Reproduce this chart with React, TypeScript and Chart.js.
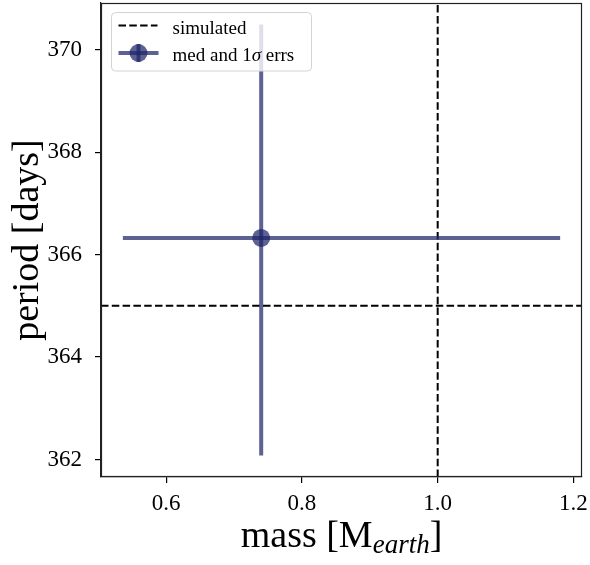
import React, { useEffect, useRef } from "react";
import { Chart, registerables } from "chart.js";

Chart.register(...registerables);

// ---- data ----
const massMedian = 0.74;
const massErrLow = 0.5362;
const massErrHigh = 1.1804;
const periodMedian = 366.325;
const periodErrLow = 362.08;
const periodErrHigh = 370.49;
const simulatedMass = [1.0];
const simulatedPeriod = [365.0];
const xRange = [0.504, 1.2126];
const yRange = [361.66, 370.91];
const xTicks = [0.6, 0.8, 1.0, 1.2];
const xTickLabels = ["0.6", "0.8", "1.0", "1.2"];
const yTicks = [362, 364, 366, 368, 370];
const yTickLabels = ["362", "364", "366", "368", "370"];
const legendLabels = ["simulated", "med and 1", "σ", " errs"];

const FONT = "'Liberation Serif', 'DejaVu Serif', serif";
const ERR = "rgba(30,38,105,0.72)";

function labelFor(ticks: number[], labels: string[], v: number) {
  const i = ticks.findIndex((t) => Math.abs(t - v) < 1e-9);
  return i >= 0 ? labels[i] : "";
}

function zeroPad(s: any) {
  s.paddingTop = 0;
  s.paddingBottom = 0;
  s.paddingLeft = 0;
  s.paddingRight = 0;
}

const overlayPlugin = {
  id: "overlay",
  afterDraw(chart: any) {
    const { ctx, chartArea } = chart;
    const { left, right, top, bottom } = chartArea;
    ctx.save();
    // frame
    ctx.strokeStyle = "#222";
    ctx.lineWidth = 1.2;
    ctx.strokeRect(left + 0.5, top + 0.5, right - left - 1, bottom - top - 1);

    // legend
    const bx = left + 10.5;
    const by = top + 9.5;
    const bw = 200;
    const bh = 58.5;
    const r = 4;
    ctx.beginPath();
    ctx.moveTo(bx + r, by);
    ctx.lineTo(bx + bw - r, by);
    ctx.quadraticCurveTo(bx + bw, by, bx + bw, by + r);
    ctx.lineTo(bx + bw, by + bh - r);
    ctx.quadraticCurveTo(bx + bw, by + bh, bx + bw - r, by + bh);
    ctx.lineTo(bx + r, by + bh);
    ctx.quadraticCurveTo(bx, by + bh, bx, by + bh - r);
    ctx.lineTo(bx, by + r);
    ctx.quadraticCurveTo(bx, by, bx + r, by);
    ctx.closePath();
    ctx.fillStyle = "rgba(255,255,255,0.8)";
    ctx.fill();
    ctx.strokeStyle = "#d3d3d3";
    ctx.lineWidth = 1;
    ctx.stroke();

    // dashed sample
    ctx.strokeStyle = "#000";
    ctx.lineWidth = 2;
    ctx.setLineDash([7.5, 3.3]);
    ctx.beginPath();
    ctx.moveTo(bx + 7, by + 13);
    ctx.lineTo(bx + 46, by + 13);
    ctx.stroke();
    ctx.setLineDash([]);

    // errorbar sample
    ctx.strokeStyle = ERR;
    ctx.lineWidth = 4;
    ctx.beginPath();
    ctx.moveTo(bx + 7, by + 40.5);
    ctx.lineTo(bx + 47, by + 40.5);
    ctx.stroke();
    ctx.beginPath();
    ctx.moveTo(bx + 27, by + 31.5);
    ctx.lineTo(bx + 27, by + 49.5);
    ctx.stroke();
    ctx.fillStyle = ERR;
    ctx.beginPath();
    ctx.arc(bx + 27, by + 40.5, 9, 0, Math.PI * 2);
    ctx.fill();

    // legend texts
    ctx.fillStyle = "#000";
    ctx.textBaseline = "alphabetic";
    ctx.textAlign = "left";
    ctx.font = `19px ${FONT}`;
    ctx.fillText(legendLabels[0], bx + 61, by + 21);
    let tx = bx + 61;
    ctx.fillText(legendLabels[1], tx, by + 48);
    tx += ctx.measureText(legendLabels[1]).width;
    ctx.font = `italic 19px ${FONT}`;
    ctx.fillText(legendLabels[2], tx, by + 48);
    tx += ctx.measureText(legendLabels[2]).width;
    ctx.font = `19px ${FONT}`;
    ctx.fillText(legendLabels[3], tx, by + 48);

    // x title: mass [M_earth]
    const fs = 38;
    const p1 = "mass [M";
    const p2 = "earth";
    const p3 = "]";
    ctx.font = `${fs}px ${FONT}`;
    const w1 = ctx.measureText(p1).width;
    const w3 = ctx.measureText(p3).width;
    ctx.font = `italic ${Math.round(fs * 0.7)}px ${FONT}`;
    const w2 = ctx.measureText(p2).width;
    const total = w1 + w2 + w3;
    let x0 = (left + right) / 2 - total / 2;
    const base = 547;
    ctx.font = `${fs}px ${FONT}`;
    ctx.fillText(p1, x0, base);
    x0 += w1;
    ctx.font = `italic ${Math.round(fs * 0.7)}px ${FONT}`;
    ctx.fillText(p2, x0, base + 6);
    x0 += w2;
    ctx.font = `${fs}px ${FONT}`;
    ctx.fillText(p3, x0, base);

    // y title
    ctx.save();
    ctx.translate(38, (top + bottom) / 2);
    ctx.rotate(-Math.PI / 2);
    ctx.textAlign = "center";
    ctx.font = `${fs}px ${FONT}`;
    ctx.fillText("period [days]", 0, 0);
    ctx.restore();

    ctx.restore();
  },
};

export default function App() {
  const ref = useRef<HTMLCanvasElement | null>(null);

  useEffect(() => {
    document.body.style.margin = "0";
    const canvas = ref.current;
    if (!canvas) return;
    const chart = new Chart(canvas, {
      type: "scatter",
      data: {
        datasets: [
          {
            type: "line",
            label: "simulated",
            data: [
              { x: simulatedMass[0], y: yRange[0] },
              { x: simulatedMass[0], y: yRange[1] },
            ],
            borderColor: "#000",
            borderWidth: 2,
            borderDash: [7.5, 3.3],
            pointRadius: 0,
            fill: false,
            order: 3,
          },
          {
            type: "line",
            label: "simulated",
            data: [
              { x: xRange[0], y: simulatedPeriod[0] },
              { x: xRange[1], y: simulatedPeriod[0] },
            ],
            borderColor: "#000",
            borderWidth: 2,
            borderDash: [7.5, 3.3],
            pointRadius: 0,
            fill: false,
            order: 3,
          },
          {
            type: "line",
            label: "mass err",
            data: [
              { x: massErrLow, y: periodMedian },
              { x: massErrHigh, y: periodMedian },
            ],
            borderColor: ERR,
            borderWidth: 4,
            borderCapStyle: "butt",
            pointRadius: 0,
            fill: false,
            order: 2,
          },
          {
            type: "line",
            label: "period err",
            data: [
              { x: massMedian, y: periodErrLow },
              { x: massMedian, y: periodErrHigh },
            ],
            borderColor: ERR,
            borderWidth: 4,
            borderCapStyle: "butt",
            pointRadius: 0,
            fill: false,
            order: 2,
          },
          {
            type: "scatter",
            label: "med and 1σ errs",
            data: [{ x: massMedian, y: periodMedian }],
            pointRadius: 9,
            backgroundColor: ERR,
            borderWidth: 0,
            order: 1,
          },
        ],
      } as any,
      options: {
        animation: false,
        responsive: false,
        maintainAspectRatio: false,
        layout: { autoPadding: false, padding: { top: 3, right: 8, left: 0, bottom: 0 } },
        plugins: { legend: { display: false }, tooltip: { enabled: false } },
        scales: {
          x: {
            type: "linear",
            min: xRange[0],
            max: xRange[1],
            afterBuildTicks: (s: any) => {
              s.ticks = xTicks.map((v) => ({ value: v }));
            },
            afterFit: (s: any) => {
              s.height = 88;
              zeroPad(s);
            },
            ticks: {
              callback: (v: any) => labelFor(xTicks, xTickLabels, Number(v)),
              font: { family: FONT, size: 23 },
              color: "#000",
              padding: 7,
              maxRotation: 0,
              autoSkip: false,
            },
            grid: {
              drawOnChartArea: false,
              drawTicks: true,
              tickLength: 6,
              color: "#000",
              lineWidth: 1.2,
            },
            border: { display: true, color: "#222", width: 1.2 },
          },
          y: {
            type: "linear",
            min: yRange[0],
            max: yRange[1],
            afterBuildTicks: (s: any) => {
              s.ticks = yTicks.map((v) => ({ value: v }));
            },
            afterFit: (s: any) => {
              s.width = 101;
              zeroPad(s);
            },
            ticks: {
              callback: (v: any) => labelFor(yTicks, yTickLabels, Number(v)),
              font: { family: FONT, size: 23 },
              color: "#000",
              padding: 13,
              autoSkip: false,
            },
            grid: {
              drawOnChartArea: false,
              drawTicks: true,
              tickLength: 6,
              color: "#000",
              lineWidth: 1.2,
            },
            border: { display: true, color: "#222", width: 1.2 },
          },
        },
      } as any,
      plugins: [overlayPlugin],
    });
    return () => chart.destroy();
  }, []);

  return (
    <div style={{ width: 590, height: 565 }}>
      <canvas ref={ref} width={590} height={565} style={{ display: "block" }} />
    </div>
  );
}
